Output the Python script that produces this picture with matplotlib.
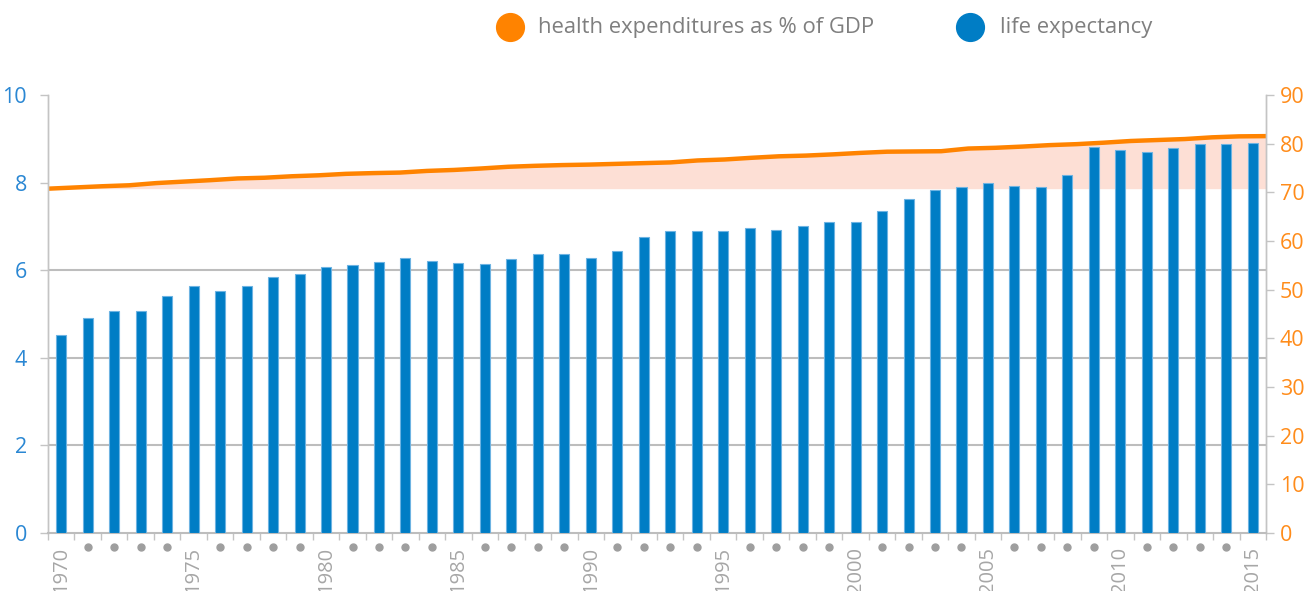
import matplotlib
matplotlib.use("Agg")
import matplotlib.pyplot as plt
from matplotlib.lines import Line2D
import numpy as np

plt.rcParams['font.family'] = ['Open Sans', 'DejaVu Sans']

years = list(range(1970, 2016))
bar_values = [4.51, 4.91, 5.07, 5.06, 5.40, 5.63, 5.53, 5.65, 5.84, 5.91,
              6.07, 6.13, 6.19, 6.27, 6.20, 6.16, 6.14, 6.26, 6.37, 6.37,
              6.27, 6.43, 6.75, 6.90, 6.90, 6.90, 6.97, 6.91, 7.00, 7.11,
              7.10, 7.36, 7.62, 7.84, 7.89, 7.99, 7.92, 7.89, 8.17, 8.82,
              8.74, 8.69, 8.78, 8.89, 8.89, 8.91]
line_values = [70.75, 71.0, 71.25, 71.45, 71.9, 72.2, 72.5, 72.85, 73.0, 73.3,
               73.5, 73.8, 73.95, 74.06, 74.4, 74.6, 74.9, 75.25, 75.45, 75.6,
               75.7, 75.85, 76.0, 76.15, 76.55, 76.75, 77.1, 77.4, 77.55, 77.8,
               78.1, 78.35, 78.4, 78.45, 79.0, 79.15, 79.4, 79.7, 79.9, 80.2,
               80.55, 80.75, 80.95, 81.3, 81.5, 81.55]
left_ticks = [0, 2, 4, 6, 8, 10]
right_ticks = [0, 10, 20, 30, 40, 50, 60, 70, 80, 90]
legend_labels = ["health expenditures as % of GDP", "life expectancy"]

ORANGE = "#FF8300"
FILL = "#FDDFD5"
BLUE = "#007DC5"
BLUE_EDGE = "#6DB3E2"
GRID = "#BDBDBD"
LEFT_TXT = "#2A87D3"
RIGHT_TXT = "#FF8C1A"
GRAY_TXT = "#A6A6A6"

fig = plt.figure(figsize=(13.1, 5.91), dpi=100)
ax = fig.add_axes([48/1310, 1-533/591, (1266-48)/1310, (533-95)/591])
ax2 = ax.twinx()
ax.set_zorder(ax2.get_zorder() + 1)
ax.patch.set_visible(False)

n = len(years)
xc = np.arange(n)
ax.bar(xc, bar_values, width=0.38, color=BLUE, edgecolor=BLUE_EDGE, linewidth=0.8, zorder=3)
ax.set_xlim(-0.5, n - 0.5)
ax.set_ylim(0, 10)

for v in [2, 4, 6]:
    ax.axhline(v, color=GRID, lw=1.5, zorder=1)

# line on right axis, spanning full width
xl = np.linspace(-0.5, n - 0.5, n)
ax2.fill_between(xl, line_values, line_values[0], color=FILL, lw=0, zorder=1)
ax2.plot(xl, line_values, color=ORANGE, lw=3.2, solid_capstyle='butt', zorder=2)
ax2.set_ylim(0, 90)
ax2.set_xlim(-0.5, n - 0.5)

# spines
for a in (ax, ax2):
    a.spines['top'].set_visible(False)
    a.spines['left'].set_color("#C4C4C4")
    a.spines['right'].set_color("#C4C4C4")
    a.spines['bottom'].set_color(GRID)
    a.spines['left'].set_linewidth(1.0)
    a.spines['right'].set_linewidth(1.0)
    a.spines['bottom'].set_linewidth(1.5)
ax2.spines['bottom'].set_visible(False)

ax.set_yticks(left_ticks)
ax.set_yticklabels([str(t) for t in left_ticks])
ax.tick_params(axis='y', colors="#C4C4C4", labelcolor=LEFT_TXT, labelsize=15.5,
               length=6, width=1, pad=9)
ax2.set_yticks(right_ticks)
ax2.set_yticklabels([str(t) for t in right_ticks])
ax2.tick_params(axis='y', colors="#C4C4C4", labelcolor=RIGHT_TXT, labelsize=15.5,
                length=6, width=1, pad=4)

# x ticks: minor at boundaries, labels at centres
ax.set_xticks(np.arange(-0.5, n, 1.0), minor=True)
ax.tick_params(axis='x', which='minor', length=5, width=1, color="#C4C4C4")
lab_pos = [i for i, y in enumerate(years) if y % 5 == 0]
ax.set_xticks(lab_pos)
ax.set_xticklabels([str(years[i]) for i in lab_pos], rotation=90, va='top')
ax.tick_params(axis='x', which='major', length=0, pad=10, labelsize=14.5,
               labelcolor=GRAY_TXT)
ax2.tick_params(axis='x', which='both', length=0, labelbottom=False)

dot_x = [i for i, y in enumerate(years) if y % 5 != 0]
ax.plot(dot_x, [-0.032] * len(dot_x), 'o', color="#9E9E9E", ms=5,
        transform=ax.get_xaxis_transform(), clip_on=False)

# legend
for cx, tx, col, lab in [(510, 538, ORANGE, legend_labels[0]),
                         (970, 1000, BLUE, legend_labels[1])]:
    fig.add_artist(Line2D([cx/1310], [1-27/591], marker='o', ms=20, color=col,
                          transform=fig.transFigure, lw=0))
    fig.text(tx/1310, 1-27/591, lab, color="#7F7F7F", fontsize=15.8,
             va='center', ha='left')

fig.savefig("out.png", dpi=100)
